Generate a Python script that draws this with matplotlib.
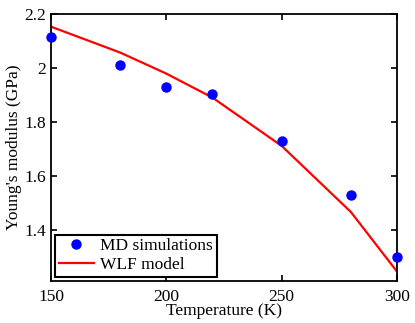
import matplotlib.pyplot as plt
import numpy as np

plt.rcParams['font.family'] = ['Liberation Serif', 'DejaVu Serif']

# data
temp = [150, 180, 200, 220, 250, 280, 300]
md_sim = [2.115, 2.012, 1.929, 1.902, 1.730, 1.530, 1.299]
wlf_model = [2.153, 2.057, 1.979, 1.890, 1.711, 1.466, 1.245]

fig = plt.figure(figsize=(4.15, 3.23), dpi=100)
ax = fig.add_axes([51 / 415, 1 - 281 / 323, 346 / 415, 267 / 323])

ax.plot(temp, md_sim, 'o', color='blue', markersize=6.5, label='MD simulations',
        clip_on=False, zorder=3)
ax.plot(temp, wlf_model, color='red', linewidth=1.6, label='WLF model', zorder=2)

ax.set_xlim(150, 300)
ax.set_ylim(1.21, 2.2)
ax.set_xticks([150, 200, 250, 300])
ax.set_yticks([1.4, 1.6, 1.8, 2.0, 2.2])
ax.set_yticklabels(['1.4', '1.6', '1.8', '2', '2.2'])
ax.tick_params(direction='in', top=True, right=True, labelsize=12.5, length=4, width=1.2)
ax.tick_params(axis='x', pad=6)
for s in ax.spines.values():
    s.set_linewidth(1.3)

ax.set_xlabel('Temperature (K)', fontsize=12.5, labelpad=-2)
ax.set_ylabel("Young's modulus (GPa)", fontsize=12.5, labelpad=2)

leg = ax.legend(loc='lower left', fontsize=12.5, fancybox=False, edgecolor='black',
                framealpha=1, borderaxespad=0.25, handlelength=2.0, borderpad=0.2,
                labelspacing=0.15, handletextpad=0.4)
leg.get_frame().set_linewidth(1.5)

fig.savefig('out.png', dpi=100)
